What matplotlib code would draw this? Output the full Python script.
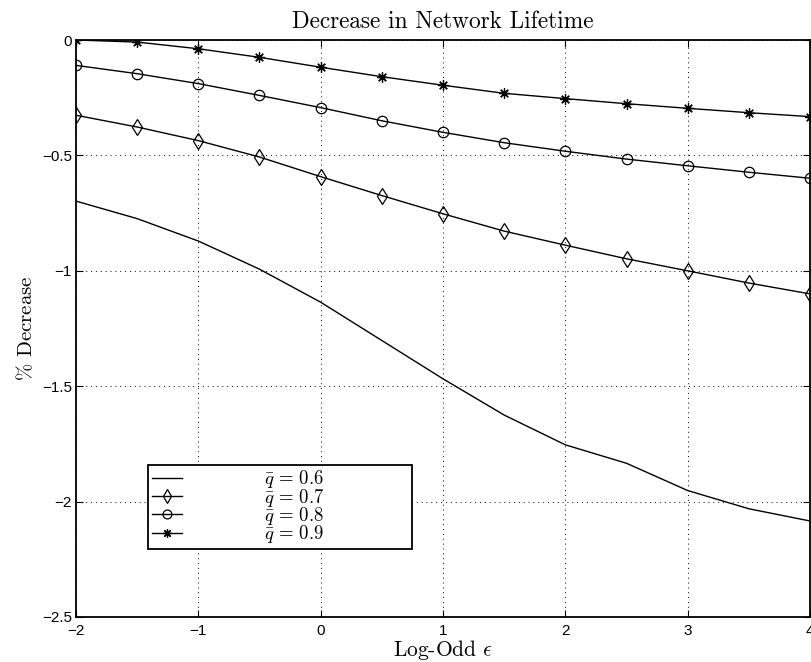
import matplotlib
matplotlib.use('Agg')
from matplotlib import pyplot as plt

plt.rcParams['mathtext.fontset'] = 'cm'
plt.rcParams['font.family'] = ['Liberation Sans', 'DejaVu Sans']
plt.rcParams['axes.unicode_minus'] = True

# log-odd values on the x axis
eps = [-2, -1.5, -1, -0.5, 0, 0.5, 1, 1.5, 2, 2.5, 3, 3.5, 4]

# % decrease for each q-bar
q06 = [-0.698, -0.774, -0.871, -0.993, -1.136, -1.302, -1.468,
       -1.625, -1.754, -1.834, -1.952, -2.031, -2.084]
q07 = [-0.326, -0.377, -0.436, -0.507, -0.592, -0.674, -0.753,
       -0.828, -0.889, -0.948, -1.000, -1.053, -1.100]
q08 = [-0.110, -0.146, -0.189, -0.240, -0.293, -0.350, -0.400,
       -0.445, -0.482, -0.516, -0.545, -0.573, -0.599]
q09 = [0.000, -0.009, -0.038, -0.075, -0.118, -0.159, -0.196,
       -0.231, -0.254, -0.276, -0.296, -0.315, -0.332]

labels = [r'$\bar{q}\,=\,0.6$', r'$\bar{q}\,=\,0.7$',
          r'$\bar{q}\,=\,0.8$', r'$\bar{q}\,=\,0.9$']

fig = plt.figure(figsize=(8.11, 6.62), dpi=100)
ax = fig.add_axes([76 / 811, 45 / 662, 734 / 811, 577 / 662])

lw = 1.0
ax.plot(eps, q06, 'k-', lw=lw, label=labels[0])
ax.plot(eps, q07, 'k-', lw=lw, marker='d', markersize=8,
        markerfacecolor='none', markeredgewidth=0.9, label=labels[1])
ax.plot(eps, q08, 'k-', lw=lw, marker='o', markersize=7.5,
        markerfacecolor='none', markeredgewidth=0.9, label=labels[2])
ax.plot(eps, q09, 'k-', lw=lw, marker=(8, 2, 0), markersize=7.5,
        markeredgewidth=0.9, label=labels[3])

ax.set_xlim(-2, 4)
ax.set_ylim(-2.5, 0)
ax.set_xticks([-2, -1, 0, 1, 2, 3, 4])
ax.set_yticks([-2.5, -2, -1.5, -1, -0.5, 0])
ax.set_yticklabels(['\u22122.5', '\u22122', '\u22121.5', '\u22121', '\u22120.5', '0'])
ax.set_xticklabels(['\u22122', '\u22121', '0', '1', '2', '3', '4'])
ax.tick_params(direction='in', top=True, right=True, length=5,
               width=0.8, labelsize=11)
ax.tick_params(axis='x', pad=5)
ax.tick_params(axis='y', pad=3)
ax.grid(True, color='black', linestyle=(0, (1, 4)), linewidth=0.7)
for s in ax.spines.values():
    s.set_linewidth(1.3)

ax.set_title('Decrease in Network Lifetime', family='cmr10', fontsize=16.8, pad=8.5)
ax.set_xlabel(r'Log-Odd $\epsilon$', family='cmr10', fontsize=15.5, labelpad=0)
ax.set_ylabel(r'$\%$ Decrease', family='cmr10', fontsize=15, labelpad=4)

leg = ax.legend(loc='lower left', bbox_to_anchor=(0.098, 0.118, 0.36, 0.139),
                mode='expand', fancybox=False, edgecolor='black',
                framealpha=1, fontsize=13.5, handlelength=1.6,
                handletextpad=4.4, borderpad=0.2, labelspacing=-0.2,
                borderaxespad=0, markerscale=0.85)
leg.get_frame().set_linewidth(1.3)

fig.savefig('out.png', dpi=100)
